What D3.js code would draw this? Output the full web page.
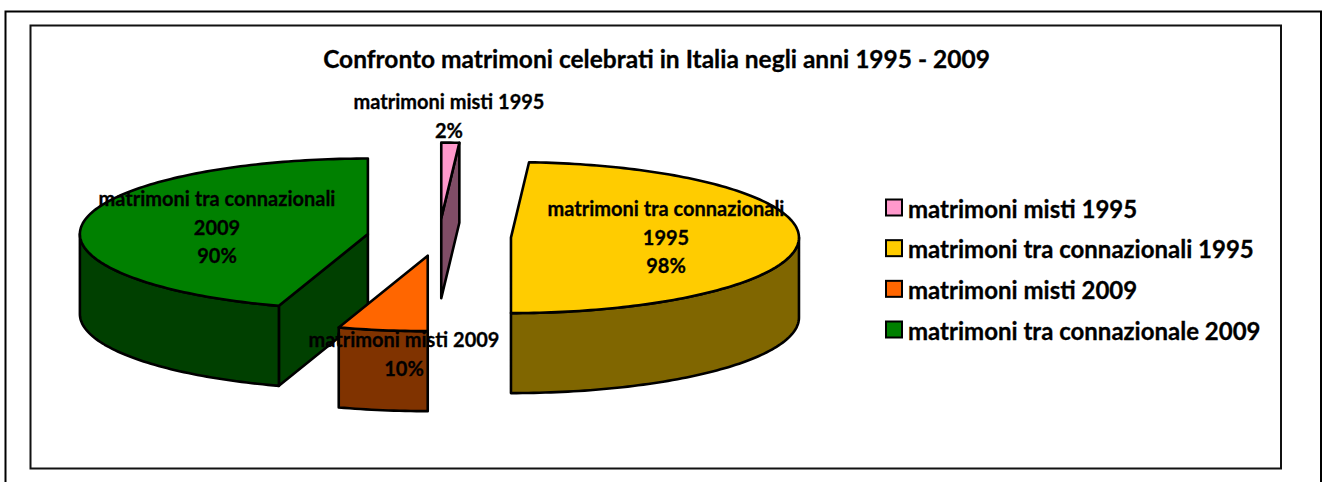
<!DOCTYPE html>
<html><head><meta charset="utf-8">
<script src="https://cdn.jsdelivr.net/npm/d3@7/dist/d3.min.js"></script>
<style>html,body{margin:0;background:#fff;overflow:hidden}svg{display:block}text{font-family:Lato,"Open Sans",sans-serif;font-weight:700;fill:#000;stroke:#000;stroke-width:.3px}</style>
</head><body><svg id="c" width="1322" height="482"></svg>
<script>
const categories = ["matrimoni misti 1995","matrimoni tra connazionali 1995","matrimoni misti 2009","matrimoni tra connazionale 2009"];
const seriesValues = [2, 98, 10, 90];
const dataLabelLines = [["matrimoni misti 1995","2%"],["matrimoni tra connazionali","1995","98%"],["matrimoni misti 2009","10%"],["matrimoni tra connazionali","2009","90%"]];
const topColors = ["#FF99CC","#FFCC00","#FF6600","#008000"];
const sideColors = ["#804D66","#806600","#803300","#004000"];
const titleText = "Confronto matrimoni celebrati in Italia negli anni 1995 - 2009";

const svg=d3.select("#c");
svg.append("rect").attr("x",5.5).attr("y",11.5).attr("width",1315.5).attr("height",490).attr("fill","#fff").attr("stroke","#000").attr("stroke-width",2);
svg.append("rect").attr("x",30.5).attr("y",25.5).attr("width",1250.5).attr("height",443).attr("fill","#fff").attr("stroke","#111").attr("stroke-width",2);

svg.append("text").attr("x",656.5).attr("y",68).attr("text-anchor","middle").style("font-size","24.5px").text(titleText);

// Pie geometry
const cx=439,cy=237,rx=288,ry=75.5,depth=80,explode=72;
const arcs=d3.pie().sort(null).value(d=>d)(seriesValues);
const px=(c,r,a)=>c+r*Math.sin(a), py=(c,r,a)=>c-r*Math.cos(a);
function rimPoints(o,a0,a1,dy){
  const n=Math.max(2,Math.ceil(Math.abs(a1-a0)/0.02));
  return d3.range(n+1).map(i=>{const a=a0+(a1-a0)*i/n;return [px(o.x,rx,a),py(o.y,ry,a)+dy];});
}
const line=d3.line();
const g=svg.append("g").attr("stroke","#000").attr("stroke-width",2.6).attr("stroke-linejoin","round");
const sl=arcs.map((d,i)=>{const m=(d.startAngle+d.endAngle)/2;
  return {i,a0:d.startAngle,a1:d.endAngle,o:{x:cx+explode*Math.sin(m),y:cy-explode*Math.cos(m)*ry/rx}};});
const drawOrder=[0,3,1,2];
drawOrder.forEach(i=>{
  const s=sl[i],o=s.o,side=sideColors[i],top=topColors[i];
  const faces=[];
  // radial walls that face the viewer
  const eps=1e-6;
  [[s.a0,-1],[s.a1,1]].forEach(([a,sign])=>{
    if(sign*Math.sin(a)>eps){
      const rim=[px(o.x,rx,a),py(o.y,ry,a)];
      faces.push([[o.x,o.y],rim,[rim[0],rim[1]+depth],[o.x,o.y+depth]]);
    }
  });
  // outer wall: only the front part of the rim
  const f0=Math.max(s.a0,Math.PI/2),f1=Math.min(s.a1,3*Math.PI/2);
  if(f1>f0){ faces.push(rimPoints(o,f0,f1,0).concat(rimPoints(o,f1,f0,depth))); }
  faces.forEach(p=>g.append("path").attr("d",line(p)+"Z").attr("fill",side));
  const t=[[o.x,o.y]].concat(rimPoints(o,s.a0,s.a1,0));
  g.append("path").attr("d",line(t)+"Z").attr("fill",top);
});

// Data labels
const labelAnchors=[[449,109],[666,216],[404,347],[217,206]];
dataLabelLines.forEach((lines,i)=>{
  lines.forEach((t,j)=>svg.append("text").attr("x",labelAnchors[i][0]).attr("y",labelAnchors[i][1]+j*28.5).attr("text-anchor","middle").style("font-size","20px").text(t));
});

// Legend
const lg=svg.append("g");
const ly=d3.scalePoint().domain(categories).range([208.5,330.5]);
categories.forEach((c,i)=>{
  const y=ly(c);
  lg.append("rect").attr("x",886).attr("y",y-9).attr("width",16).attr("height",16).attr("fill",topColors[i]).attr("stroke","#000").attr("stroke-width",2);
  lg.append("text").attr("x",908).attr("y",y+9).style("font-size","24px").text(c);
});
</script></body></html>
